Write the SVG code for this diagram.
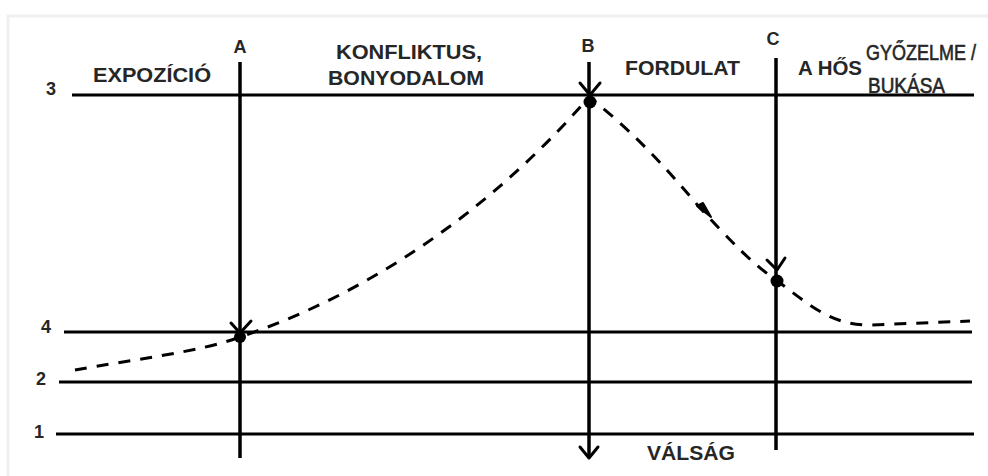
<svg xmlns="http://www.w3.org/2000/svg" width="988" height="476" viewBox="0 0 988 476">
<style>
.ln{stroke:#000;stroke-width:3;fill:none;stroke-linecap:butt}
.vl{stroke:#000;stroke-width:3.5;fill:none}
.ch{stroke:#000;stroke-width:3;fill:none;stroke-linecap:round;stroke-linejoin:round}
.cv{stroke:#000;stroke-width:3;fill:none;stroke-dasharray:12 10}
.t{font-family:"Liberation Sans",Arial,sans-serif;font-weight:bold;font-size:20px;fill:#262626}
.n{font-family:"Liberation Sans",Arial,sans-serif;font-weight:bold;font-size:18px;fill:#262626}
.nr{font-family:"Liberation Sans",Arial,sans-serif;font-size:18px;fill:#262626;stroke:#262626;stroke-width:0.5}
</style>
<rect x="0" y="0" width="988" height="476" fill="#fff"/>
<path d="M8,476 V16 H988" fill="none" stroke="#f0f0f0" stroke-width="3"/>
<g id="connectors">
<line class="ln" x1="72" y1="95" x2="974" y2="95"/>
<line class="ln" x1="64" y1="332" x2="972" y2="332"/>
<line class="ln" x1="59" y1="382" x2="972" y2="382"/>
<line class="ln" x1="56" y1="434" x2="974" y2="434"/>
<line class="vl" x1="240" y1="62" x2="240" y2="458"/>
<line class="vl" x1="589" y1="62" x2="589" y2="457"/>
<line class="vl" x1="776" y1="58" x2="776" y2="450"/>
<path class="ch" d="M580,447 L589,458 L598,447"/>
<path class="cv" d="M75,370 C130,360 200,352 240,337 C380,290 500,200 589,97 C625,125 660,160 700,208 C730,240 750,262 776,280 C810,305 830,325 870,325 L970,321"/>
</g>
<g id="node-A">
<text class="n" x="240" y="53" text-anchor="middle">A</text>
<path class="ch" d="M231,323 L240,333 L251,321"/>
<circle cx="240" cy="337" r="6" fill="#000"/>
</g>
<g id="node-B">
<text class="n" x="588" y="52" text-anchor="middle">B</text>
<path class="ch" d="M580,83 L590,95 L600,83"/>
<circle cx="590" cy="102" r="6.5" fill="#000"/>
</g>
<g id="node-mid">
<path d="M697,206 L703,203 L711,217 Z" fill="#000" stroke="#000" stroke-width="2" stroke-linejoin="round"/>
</g>
<g id="node-C">
<text class="n" x="773" y="45" text-anchor="middle">C</text>
<path class="ch" d="M767,260 L777,270 L785,258"/>
<circle cx="777" cy="281" r="6.5" fill="#000"/>
</g>
<g id="labels">
<text class="n" x="51" y="95" text-anchor="middle">3</text>
<text class="n" x="46" y="333" text-anchor="middle">4</text>
<text class="n" x="41" y="385" text-anchor="middle">2</text>
<text class="n" x="39" y="438" text-anchor="middle">1</text>
<text class="t" x="152" y="82" text-anchor="middle" textLength="118" lengthAdjust="spacingAndGlyphs">EXPOZÍCIÓ</text>
<text class="t" x="336" y="59" textLength="146" lengthAdjust="spacingAndGlyphs">KONFLIKTUS,</text>
<text class="t" x="328" y="85" textLength="156" lengthAdjust="spacingAndGlyphs">BONYODALOM</text>
<text class="t" x="625" y="75" textLength="115" lengthAdjust="spacingAndGlyphs">FORDULAT</text>
<text class="t" x="798" y="75" textLength="64" lengthAdjust="spacingAndGlyphs">A HŐS</text>
<text class="nr" transform="translate(866,60) scale(1,1.2)" x="0" y="0">GYŐZELME /</text>
<text class="nr" transform="translate(868,93) scale(1,1.2)" x="0" y="0" textLength="77" lengthAdjust="spacingAndGlyphs">BUKÁSA</text>
<text class="t" x="647" y="460" textLength="88" lengthAdjust="spacingAndGlyphs">VÁLSÁG</text>
</g>
</svg>
